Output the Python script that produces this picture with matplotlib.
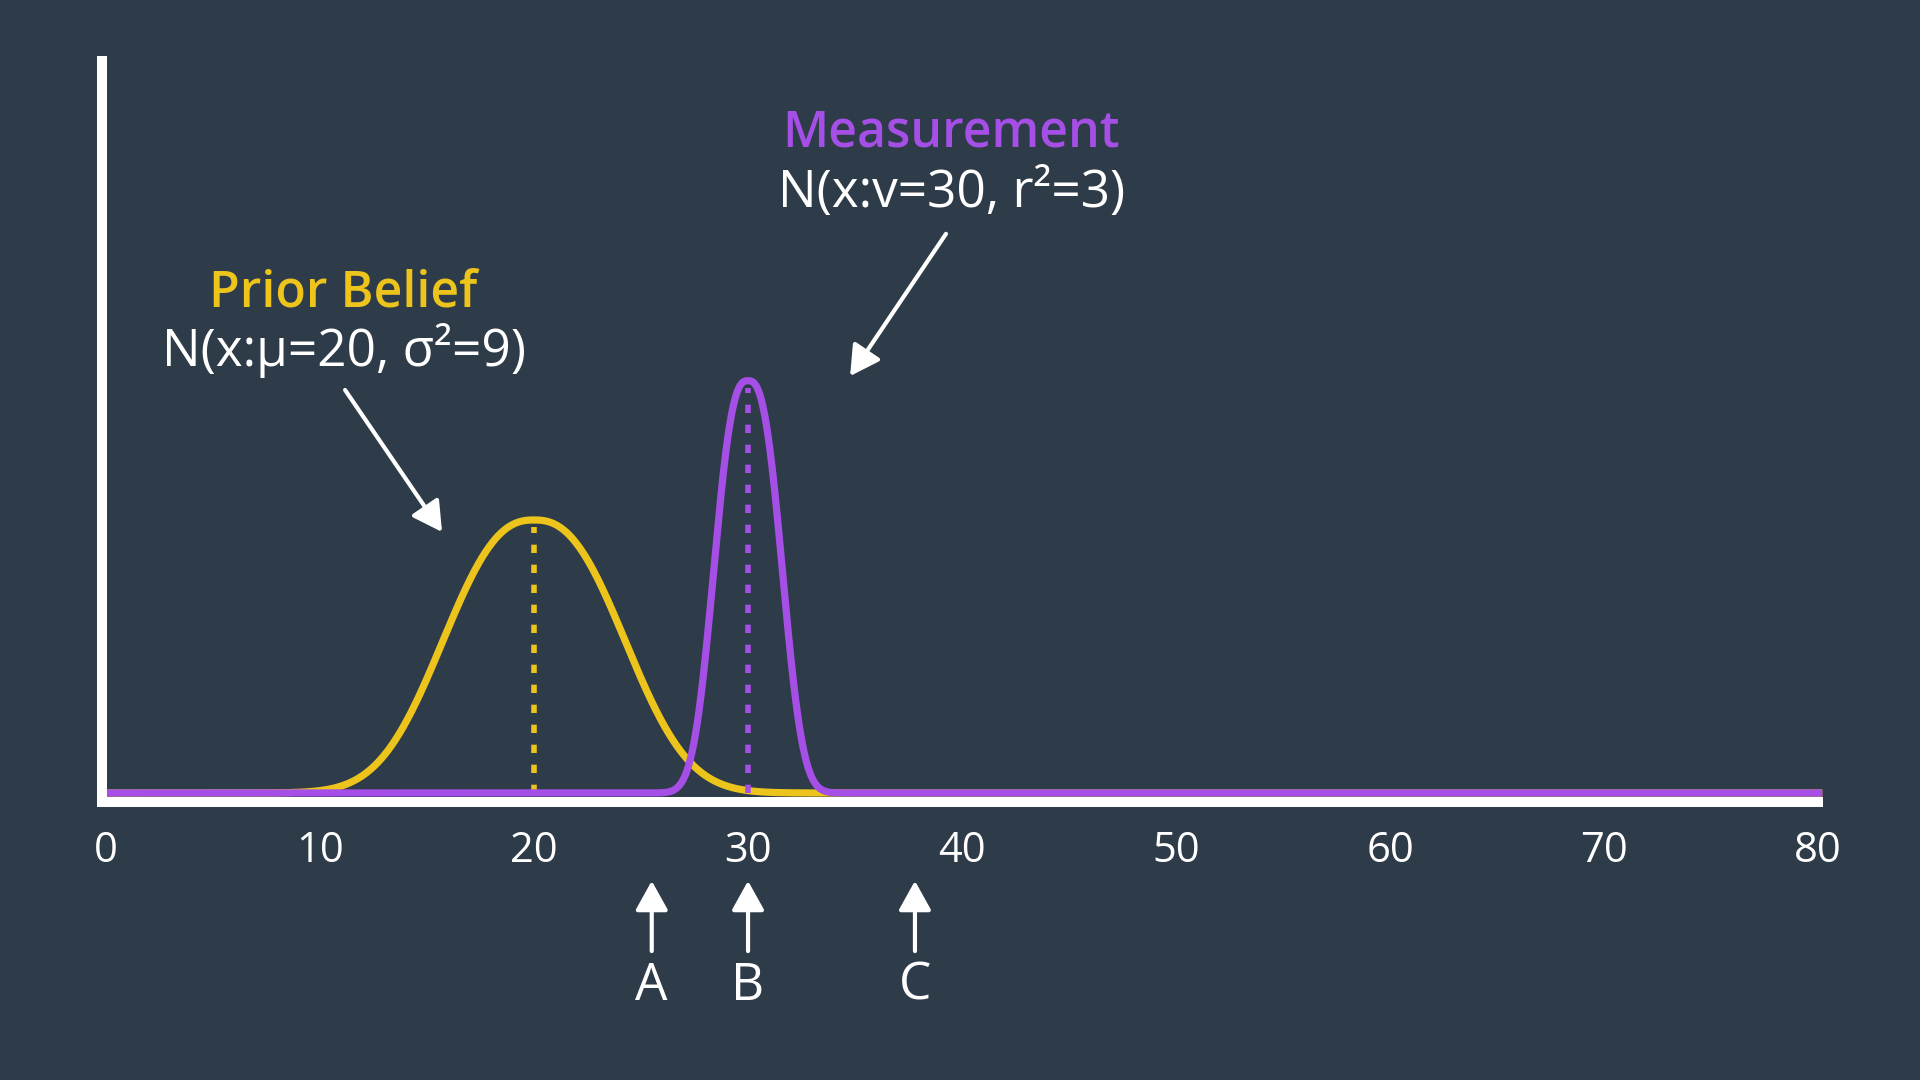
import numpy as np
import matplotlib.pyplot as plt

plt.rcParams['font.family'] = ['Open Sans', 'DejaVu Sans']

# colours
bg = '#2e3b49'
yellow = '#ecc41c'
purple = '#a54fe6'

# bell curves: centre, half-width scale, shape exponent, peak height
names = ['Prior Belief', 'Measurement']
formulas = ['N(x:μ=20, σ²=9)', 'N(x:v=30, r²=3)']
means = [20, 30]
widths = [5.3, 1.92]
shapes = [2.45, 2.7]
peaks = [1.0, 1.51]
colors = [yellow, purple]

# label / arrow anchors (data units)
label_x = [11.1, 39.5]
title_y = [1.828, 2.415]
formula_y = [1.622, 2.195]
arrow_tail = [(11.17, 1.476), (39.25, 2.048)]
arrow_tip = [(15.7, 0.956), (34.77, 1.527)]

# points marked below the axis
marks = ['A', 'B', 'C']
mark_x = [25.5, 30, 37.8]

ticks = [0, 10, 20, 30, 40, 50, 60, 70, 80]

fig = plt.figure(figsize=(19.2, 10.8), dpi=100, facecolor=bg)
ax = fig.add_axes([102 / 1920, 278 / 1080, 1716 / 1920, 741 / 1080])
ax.set_facecolor(bg)
ax.set_xlim(-0.19, 80)
ax.set_ylim(-0.033, 2.681)

x = np.linspace(0, 80.2, 3000)
for m, w, p, h, c in zip(means, widths, shapes, peaks, colors):
    y = h * np.exp(-(np.abs(x - m) / w) ** p)
    ax.plot(x, y, color=c, lw=5.2, clip_on=False, solid_capstyle='butt')
    ax.plot([m, m], [0, h - 0.025], color=c, lw=4,
            linestyle=(0, (1.5, 2.1)))

for i in range(2):
    ax.text(label_x[i], title_y[i], names[i], color=colors[i], fontsize=36,
            fontweight='semibold', ha='center', va='center')
    ax.text(label_x[i], formula_y[i], formulas[i], color='white', fontsize=37,
            fontweight='medium', ha='center', va='center')
    ax.annotate('', xy=arrow_tip[i], xytext=arrow_tail[i],
                arrowprops=dict(arrowstyle='-|>,head_length=18,head_width=10',
                                mutation_scale=1, color='white', lw=3,
                                shrinkA=0, shrinkB=0))

for lab, mx in zip(marks, mark_x):
    ax.annotate('', xy=(mx, -0.322), xytext=(mx, -0.579), annotation_clip=False,
                arrowprops=dict(arrowstyle='-|>,head_length=18,head_width=10',
                                mutation_scale=1, color='white', lw=3,
                                shrinkA=0, shrinkB=0))
    ax.text(mx, -0.707, lab, color='white', fontsize=37, fontweight='medium',
            ha='center', va='center', clip_on=False)

for side in ['top', 'right']:
    ax.spines[side].set_visible(False)
for side in ['left', 'bottom']:
    ax.spines[side].set_color('white')
    ax.spines[side].set_linewidth(7.2)

ax.set_xticks(ticks)
ax.set_xticklabels([str(t) for t in ticks], fontweight='medium')
ax.set_yticks([])
ax.tick_params(axis='x', length=0, pad=20, labelsize=30, labelcolor='white')

fig.savefig('out.png', dpi=100, facecolor=bg)
